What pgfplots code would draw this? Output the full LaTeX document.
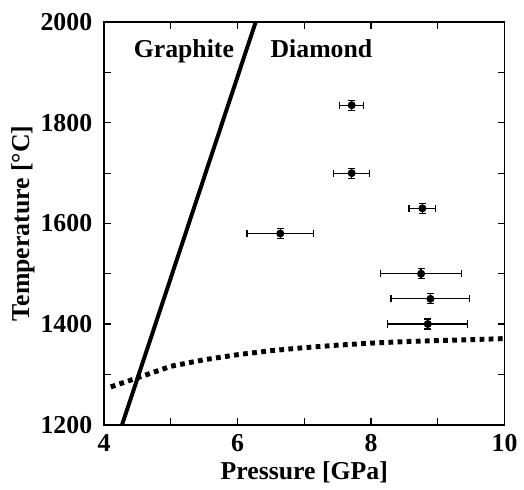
\documentclass[border=0pt]{standalone}
\usepackage{fontspec}
\setmainfont{Liberation Serif}
\usepackage{pgfplots}
\pgfplotsset{compat=1.18}
\begin{document}
\begin{tikzpicture}
\begin{axis}[
    scale only axis,
    width=202pt, height=203pt,
    xmin=4, xmax=10, ymin=1200, ymax=2000,
    xtick={4,5,...,10}, xticklabels={4,,6,,8,,10},
    ytick={1200,1300,...,2000}, yticklabels={1200,,1400,,1600,,1800,,2000},
    tick align=inside, major tick length=3.5pt,
    axis line style={line width=1pt},
    every tick/.style={line width=0.6pt, black},
    /pgf/number format/assume math mode=true,
    tick label style={font=\fontsize{13}{15}\selectfont\bfseries},
    yticklabel style={xshift=-2.5pt},
    xticklabel style={yshift=-1.5pt},
    label style={font=\fontsize{13}{15}\selectfont\bfseries},
    xlabel={Pressure [GPa]},
    ylabel={Temperature [\textdegree C]},
    xlabel style={yshift=2pt},
    ylabel style={yshift=-4pt},
    clip=true,
]
% graphite-diamond boundary
\addplot[black, line width=2pt] coordinates {(4.27,1200) (6.27,2000)};
% dotted curve
\addplot[black, line width=2.5pt, dash pattern=on 2.4pt off 2.2pt] coordinates {
(4.1,1275) (4.5,1293) (5,1316) (5.5,1329) (6,1339) (6.5,1347) (7,1353)
(7.5,1358) (8,1362) (8.5,1365) (9,1367) (9.5,1369) (10,1371)};
% measurements
\addplot[only marks, mark=*, mark size=1.8pt, black,
    error bars/.cd, x dir=both, x explicit, y dir=both, y explicit,
    error bar style={line width=0.6pt},
    error mark options={rotate=90, mark size=1.8pt, line width=0.6pt}]
coordinates {
(7.71,1835) +- (0.18,10)
(7.71,1700) +- (0.27,10)
(8.77,1630) +- (0.20,10)
(6.64,1580) +- (0.50,10)
(8.75,1500) +- (0.61,10)
(8.89,1450) +- (0.59,10)
(8.85,1400) +- (0.60,10)
};
\node[anchor=base west, font=\fontsize{13}{15}\selectfont\bfseries] at (axis cs:4.34,1930) {Graphite};
\node[anchor=base west, font=\fontsize{13}{15}\selectfont\bfseries] at (axis cs:6.39,1930) {Diamond};
\end{axis}
\path ([xshift=-2.5pt,yshift=3.5pt]current bounding box.north west);
\end{tikzpicture}
\end{document}
